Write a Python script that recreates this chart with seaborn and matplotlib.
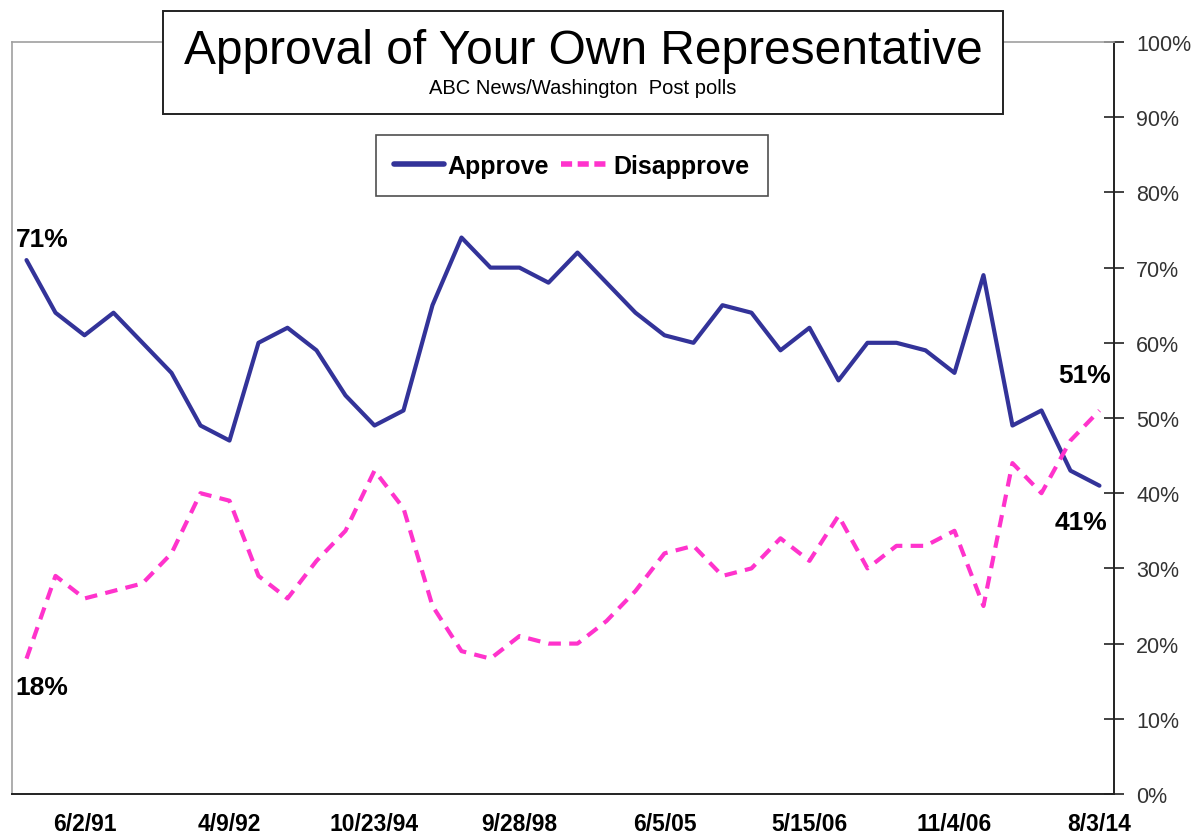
import numpy as np
import pandas as pd
import matplotlib
matplotlib.use('Agg')
import matplotlib.pyplot as plt
import matplotlib.patches as patches
from matplotlib.ticker import FixedLocator, FuncFormatter
import seaborn as sns

# poll values (38 polls, evenly spaced)
approve = [71, 64, 61, 64, 60, 56, 49, 47, 60, 62, 59, 53, 49, 51, 65, 74, 70, 70, 68, 72,
           68, 64, 61, 60, 65, 64, 59, 62, 55, 60, 60, 59, 56, 69, 49, 51, 43, 41]
disapprove = [18, 29, 26, 27, 28, 32, 40, 39, 29, 26, 31, 35, 43, 38, 25, 19, 18, 21, 20, 20,
              23, 27, 32, 33, 29, 30, 34, 31, 37, 30, 33, 33, 35, 25, 44, 40, 47, 51]
tick_pos = [2, 7, 12, 17, 22, 27, 32, 37]
tick_labels = ['6/2/91', '4/9/92', '10/23/94', '9/28/98', '6/5/05', '5/15/06', '11/4/06', '8/3/14']

n = len(approve)
df = pd.DataFrame({
    'poll': list(range(n)) * 2,
    'value': approve + disapprove,
    'series': ['Approve'] * n + ['Disapprove'] * n,
})

sns.set_style('white')
plt.rcParams['font.family'] = ['Liberation Sans', 'DejaVu Sans']
plt.rcParams['text.color'] = 'black'
plt.rcParams['xtick.color'] = 'black'

fig = plt.figure(figsize=(12, 8.37), dpi=100)
ax = fig.add_axes([0.01, 0.0502, 0.9183, 0.8984])

sns.lineplot(data=df, x='poll', y='value', hue='series', style='series',
             palette={'Approve': '#333399', 'Disapprove': '#FF33CC'},
             dashes={'Approve': '', 'Disapprove': (3, 2)},
             linewidth=3.0, ax=ax, legend=False)

ax.set_xlim(-0.5, n - 0.5)
ax.set_ylim(0, 100)
ax.set_xlabel('')
ax.set_ylabel('')

# x axis: tick marks between polls, labels every 5th poll
ax.xaxis.set_major_locator(FixedLocator(tick_pos))
ax.set_xticklabels(tick_labels, fontsize=16.5, fontweight='bold', color='black')
ax.xaxis.set_minor_locator(FixedLocator(np.arange(-0.5, n, 1)))
ax.tick_params(axis='x', which='major', length=0, pad=13)
ax.tick_params(axis='x', which='minor', direction='inout', length=14, width=1.2, color='#222222')

# y axis on the right
ax.yaxis.tick_right()
ax.set_yticks(range(0, 101, 10))
ax.yaxis.set_major_formatter(FuncFormatter(lambda v, p: '{:d}%'.format(int(v))))
ax.tick_params(axis='y', direction='inout', length=14, width=1.2, color='#222222',
               labelsize=15.5, labelcolor='#333333', pad=9)

for side in ['left', 'top']:
    ax.spines[side].set_color('#A0A0A0')
    ax.spines[side].set_linewidth(1.2)
for side in ['right', 'bottom']:
    ax.spines[side].set_color('#222222')
    ax.spines[side].set_linewidth(1.4)
ax.grid(False)

# end labels
lab = dict(fontsize=19, fontweight='bold', color='black')
ax.text(-0.38, approve[0] + 1.2, '{}%'.format(approve[0]), ha='left', va='bottom', **lab)
ax.text(-0.38, disapprove[0] - 2.2, '{}%'.format(disapprove[0]), ha='left', va='top', **lab)
ax.text(n - 1.5, disapprove[-1] + 3.1, '{}%'.format(disapprove[-1]), ha='center', va='bottom', **lab)
ax.text(n - 1.65, approve[-1] - 3.3, '{}%'.format(approve[-1]), ha='center', va='top', **lab)

# legend box
handles = [plt.Line2D([], [], color='#333399', lw=4),
           plt.Line2D([], [], color='#FF33CC', lw=4, ls=(0, (2, 1)))]
leg = fig.legend(handles, ['Approve', 'Disapprove'], loc='center', bbox_to_anchor=(0.4767, 0.801),
                 ncol=2, frameon=True, fancybox=False, handlelength=2.0, handletextpad=0.1,
                 columnspacing=0.5, borderpad=0.75, prop={'size': 18, 'weight': 'bold'})
leg.get_frame().set_edgecolor('#222222')
leg.get_frame().set_linewidth(1.2)
for t in leg.get_texts():
    t.set_color('black')

# title box
fig.patches.append(patches.Rectangle((0.1358, 0.8626), 0.7, 0.1231, transform=fig.transFigure,
                                     facecolor='white', edgecolor='#222222', linewidth=1.4, zorder=3))
fig.text(0.4858, 0.9379, 'Approval of Your Own Representative', fontsize=34.5, ha='center', va='center',
         color='black', zorder=4)
fig.text(0.4858, 0.8937, 'ABC News/Washington  Post polls', fontsize=14.5, ha='center', va='center',
         color='black', zorder=4)

fig.savefig('out.png', dpi=100)
